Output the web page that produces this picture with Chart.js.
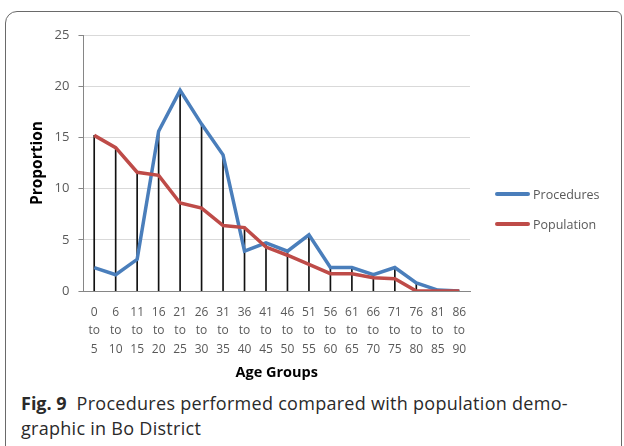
<!DOCTYPE html>
<html>
<head>
<meta charset="utf-8">
<script src="https://cdn.jsdelivr.net/npm/chart.js@4"></script>
<style>
  html, body { margin: 0; padding: 0; background: #fff; }
  body { width: 624px; height: 446px; position: relative; overflow: hidden; font-family: "Open Sans", sans-serif; }
  .frame {
    position: absolute; left: 5px; top: 11px; width: 617px; height: 450px;
    box-sizing: border-box; border: 1.5px solid #6a6a6a; border-radius: 12px 6px 0 12px;
  }
  #chart { position: absolute; left: 0; top: 0; }
  .legend { position: absolute; left: 495px; top: 185px; font-size: 12.5px; color: #595959; }
  .legend .item { display: flex; align-items: center; height: 18px; margin-bottom: 12px; }
  .legend .swatch { width: 35px; height: 3.5px; margin-right: 3px; border-radius: 2px; }
  .caption {
    position: absolute; left: 21px; top: 391px; font-size: 18px; line-height: 25px;
    letter-spacing: 0.28px; color: #2a2a2a; white-space: nowrap;
  }
  .caption b { font-weight: 700; margin-right: 5px; letter-spacing: 0; }
</style>
</head>
<body>
<div class="frame"></div>
<canvas id="chart" width="624" height="390"></canvas>
<div class="legend">
  <div class="item"><span class="swatch" style="background:#4A7EBB"></span>Procedures</div>
  <div class="item"><span class="swatch" style="background:#BE4B48"></span>Population</div>
</div>
<div class="caption"><b>Fig. 9</b> Procedures performed compared with population demo-<br>graphic in Bo District</div>
<script>
  const ageGroups = [
    ['0', 'to', '5'], ['6', 'to', '10'], ['11', 'to', '15'], ['16', 'to', '20'],
    ['21', 'to', '25'], ['26', 'to', '30'], ['31', 'to', '35'], ['36', 'to', '40'],
    ['41', 'to', '45'], ['46', 'to', '50'], ['51', 'to', '55'], ['56', 'to', '60'],
    ['61', 'to', '65'], ['66', 'to', '70'], ['71', 'to', '75'], ['76', 'to', '80'],
    ['81', 'to', '85'], ['86', 'to', '90']
  ];
  const procedures = [2.3, 1.6, 3.1, 15.6, 19.6, 16.3, 13.3, 3.9, 4.7, 3.9, 5.5, 2.3, 2.3, 1.6, 2.3, 0.8, 0.1, 0];
  const population = [15.2, 14.0, 11.6, 11.3, 8.6, 8.1, 6.4, 6.2, 4.3, 3.5, 2.6, 1.7, 1.7, 1.3, 1.2, 0, 0, 0];
  const yTicks = [0, 5, 10, 15, 20, 25];

  // drop lines go from the axis up to the higher of the two series
  const dropLines = procedures.map((v, i) => Math.max(v, population[i]));

  const tickFont = { family: 'Open Sans', size: 12 };

  new Chart(document.getElementById('chart'), {
    data: {
      labels: ageGroups,
      datasets: [
        {
          type: 'line',
          label: 'Population',
          data: population,
          borderColor: '#BE4B48',
          borderWidth: 3.5,
          pointRadius: 0,
          tension: 0,
          order: 1
        },
        {
          type: 'line',
          label: 'Procedures',
          data: procedures,
          borderColor: '#4A7EBB',
          borderWidth: 3.5,
          pointRadius: 0,
          tension: 0,
          order: 2
        },
        {
          type: 'bar',
          label: 'drop',
          data: dropLines,
          backgroundColor: '#111',
          barThickness: 1,
          order: 3
        }
      ]
    },
    options: {
      responsive: false,
      animation: false,
      layout: { padding: { left: 28.7, right: 154, top: 35, bottom: 8 } },
      plugins: { legend: { display: false }, tooltip: { enabled: false } },
      scales: {
        x: {
          offset: true,
          grid: { display: false, drawTicks: false },
          border: { display: true, color: '#868686', width: 1 },
          ticks: { font: { ...tickFont, lineHeight: 18.5 / 12 }, color: '#595959', padding: 12, maxRotation: 0, autoSkip: false },
          title: {
            display: true, text: 'Age Groups', color: '#000',
            font: { family: 'Open Sans', size: 14.5, weight: 'bold' },
            padding: { top: -6, bottom: 0 }
          }
        },
        y: {
          min: 0,
          max: 25,
          afterBuildTicks: axis => { axis.ticks = yTicks.map(v => ({ value: v })); },
          grid: { color: '#d9d9d9', lineWidth: 1, tickLength: 5, tickColor: '#868686' },
          border: { display: true, color: '#868686', width: 1 },
          ticks: { font: { family: 'Open Sans', size: 13 }, color: '#595959', padding: 9 },
          title: {
            display: true, text: 'Proportion', color: '#000',
            font: { family: 'Open Sans', size: 15.5, weight: 'bold' },
            padding: { top: 0, bottom: -1.7 }
          }
        }
      }
    }
  });
</script>
</body>
</html>
